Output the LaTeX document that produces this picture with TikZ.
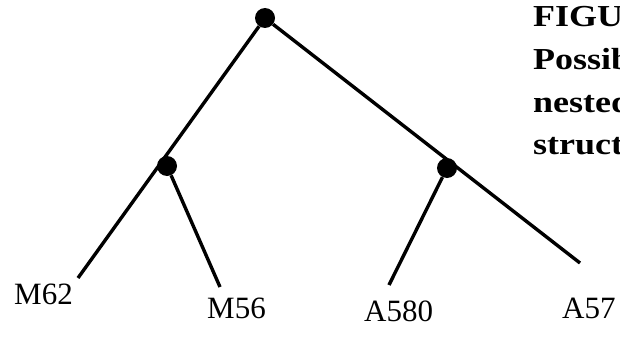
\documentclass[tikz,border=0pt]{standalone}
\usepackage{fontspec}
\usepackage{graphicx}
\setmainfont{Liberation Serif}
\newcommand{\widecap}[1]{\scalebox{1.18}[1]{#1}}
\begin{document}
\begin{tikzpicture}[x=1pt,y=-1pt,
  dot/.style={circle,fill=black,inner sep=0pt,minimum size=20pt},
  branch/.style={line width=3.4pt},
  leaf/.style={anchor=base west,inner sep=0pt,font=\fontsize{31}{36}\selectfont},
  caption/.style={anchor=base west,inner sep=0pt,font=\fontsize{30.5}{36}\selectfont\bfseries}]
\clip (0,0) rectangle (620,337);
\fill[white] (0,0) rectangle (620,337);
% internal nodes
\node[dot] (root) at (265,18) {};
\node[dot] (left) at (167,166) {};
\node[dot] (right) at (447,168) {};
% leaf line ends
\coordinate (m62end) at (78,278);
\coordinate (m56end) at (220,287);
\coordinate (a580end) at (389,285);
\coordinate (a57end) at (580,263);
% branches
\draw[branch] (root) -- (m62end);
\draw[branch] (root) -- (a57end);
\draw[branch] (left) -- (m56end);
\draw[branch] (right) -- (a580end);
% leaf labels
\node[leaf] (m62) at (14,304) {M62};
\node[leaf] (m56) at (207,318) {M56};
\node[leaf] (a580) at (364,321) {A580};
\node[leaf] (a57) at (562,318) {A57};
% caption (cut off at the right edge, as in the reference)
\node[caption] (cap1) at (533,27) {\widecap{FIGU}};
\node[caption] (cap2) at (533,69) {\widecap{Possib}};
\node[caption] (cap3) at (533,112) {\widecap{nested}};
\node[caption] (cap4) at (533,154) {\widecap{struct}};
\end{tikzpicture}
\end{document}
